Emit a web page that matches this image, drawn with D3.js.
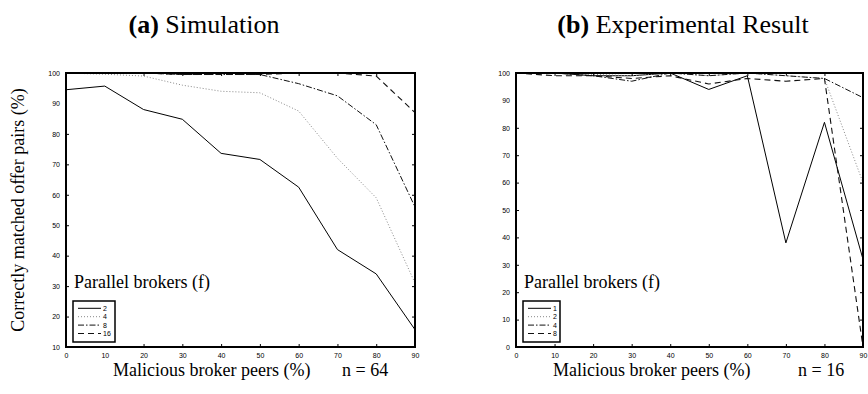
<!DOCTYPE html>
<html>
<head>
<meta charset="utf-8">
<script src="https://cdn.jsdelivr.net/npm/d3@7"></script>
</head>
<body style="margin:0; background:#fff">
<svg width="868" height="394"></svg>
<script>
// x positions: malicious broker peers (%)
var malicious = [0, 10, 20, 30, 40, 50, 60, 70, 80, 90];

// (a) simulation, n = 64
var simLabels = ["2", "4", "8", "16"];
var sim2  = [94.5, 95.7, 88, 84.8, 73.6, 71.6, 62.5, 42, 34, 15.7];
var sim4  = [100, 99.6, 99, 96, 94, 93.5, 87.5, 72, 59, 31];
var sim8  = [100, 100, 100, 99.5, 99.5, 99.5, 96.5, 92.5, 83, 56];
var sim16 = [100, 100, 100, 99.5, 99.5, 99.5, 100, 100, 99, 87];

// (b) experimental result, n = 16
var expLabels = ["1", "2", "4", "8"];
var exp1 = [100, 100, 99, 99, 100, 94, 99, 38, 82, 32];
var exp2 = [100, 100, 99.5, 99, 100, 99, 100, 99, 98, 60];
var exp4 = [100, 100, 99, 97, 100, 99, 100, 99, 98, 91];
var exp8 = [100, 99, 99, 98, 99, 96, 98, 97, 98, 0];

var xTicks = [0, 10, 20, 30, 40, 50, 60, 70, 80, 90];
var ySimTicks = [10, 20, 30, 40, 50, 60, 70, 80, 90, 100];
var yExpTicks = [0, 10, 20, 30, 40, 50, 60, 70, 80, 90, 100];

var serif = "Liberation Serif",
    sans = "Liberation Sans";

var styles = [
  { dash: null, color: "#000", width: 1 },
  { dash: "1,2", color: "#888", width: 1 },
  { dash: "6,2,1.5,2", color: "#111", width: 1 },
  { dash: "6,4", color: "#111", width: 1.1 }
];

var svg = d3.select("svg");

function serifText(g, size) {
  return g.append("text")
    .attr("font-family", serif)
    .attr("font-size", size)
    .attr("fill", "#000");
}

function panel(opts) {
  var x = d3.scaleLinear().domain([0, 90]).range([opts.left, opts.right]);
  var y = d3.scaleLinear().domain(opts.yDomain).range([347, 73]);
  var g = svg.append("g");

  // axes with inward ticks on all four sides
  g.append("g").attr("transform", "translate(0,347)")
    .call(d3.axisBottom(x).tickValues(xTicks).tickSizeInner(-3).tickSizeOuter(0).tickPadding(6));
  g.append("g").attr("transform", "translate(0,73)")
    .call(d3.axisTop(x).tickValues(xTicks).tickSizeInner(-3).tickSizeOuter(0).tickFormat(""));
  g.append("g").attr("transform", "translate(" + opts.left + ",0)")
    .call(d3.axisLeft(y).tickValues(opts.yTicks).tickSizeInner(-3).tickSizeOuter(0).tickPadding(6));
  g.append("g").attr("transform", "translate(" + opts.right + ",0)")
    .call(d3.axisRight(y).tickValues(opts.yTicks).tickSizeInner(-3).tickSizeOuter(0).tickFormat(""));
  g.selectAll(".domain").remove();
  g.selectAll(".tick line").attr("stroke", "#000");
  g.selectAll(".tick text").attr("font-family", sans).attr("font-size", 7).attr("fill", "#000");
  g.selectAll(".tick").filter(function(d) { return d === 0 || d === 90 || d === opts.yDomain[0] || d === 100; })
    .select("line").attr("stroke", "none");

  var line = d3.line().x(function(d, i) { return x(malicious[i]); }).y(function(d) { return y(d); });

  opts.series.forEach(function(s, i) {
    g.append("path")
      .datum(s)
      .attr("d", line)
      .attr("fill", "none")
      .attr("stroke", styles[i].color)
      .attr("stroke-width", styles[i].width)
      .attr("stroke-dasharray", styles[i].dash);
  });

  g.append("rect")
    .attr("x", opts.left).attr("y", 73)
    .attr("width", opts.right - opts.left).attr("height", 347 - 73)
    .attr("fill", "none").attr("stroke", "#000").attr("stroke-width", 2);

  // legend
  serifText(g, 18)
    .attr("x", opts.left + 8).attr("y", 288)
    .text("Parallel brokers (f)");

  var lx = opts.left + 7;
  g.append("rect")
    .attr("x", lx).attr("y", 301)
    .attr("width", opts.legendW).attr("height", 41)
    .attr("fill", "#fff").attr("stroke", "#000").attr("stroke-width", 1.5);
  opts.labels.forEach(function(lab, i) {
    var ly = 308.3 + i * 8.4;
    g.append("line")
      .attr("x1", lx + 5).attr("x2", lx + 28)
      .attr("y1", ly).attr("y2", ly)
      .attr("stroke", styles[i].color)
      .attr("stroke-width", styles[i].width)
      .attr("stroke-dasharray", styles[i].dash);
    g.append("text")
      .attr("x", lx + 30).attr("y", ly + 2.5)
      .attr("font-family", sans)
      .attr("font-size", 7).attr("fill", "#000")
      .text(lab);
  });

  // titles and x label
  var t = serifText(g, 26)
    .attr("x", opts.titleX).attr("y", 33)
    .attr("text-anchor", "middle");
  t.append("tspan").attr("font-weight", "bold").text(opts.tag);
  t.append("tspan").text(" " + opts.title);

  serifText(g, 18)
    .attr("x", opts.xLabelX).attr("y", 376)
    .text("Malicious broker peers (%)");
  serifText(g, 18)
    .attr("x", opts.nX).attr("y", 376)
    .text(opts.n);
}

panel({
  left: 66, right: 415, yDomain: [10, 100], yTicks: ySimTicks,
  series: [sim2, sim4, sim8, sim16], labels: simLabels, legendW: 42,
  tag: "(a)", title: "Simulation", titleX: 204,
  xLabelX: 113, nX: 342, n: "n = 64"
});

panel({
  left: 516, right: 863, yDomain: [0, 100], yTicks: yExpTicks,
  series: [exp1, exp2, exp4, exp8], labels: expLabels, legendW: 37,
  tag: "(b)", title: "Experimental Result", titleX: 683,
  xLabelX: 553, nX: 798, n: "n = 16"
});

serifText(svg, 18)
  .attr("transform", "translate(24,210) rotate(-90)")
  .attr("text-anchor", "middle")
  .text("Correctly matched offer pairs (%)");
</script>
</body>
</html>
